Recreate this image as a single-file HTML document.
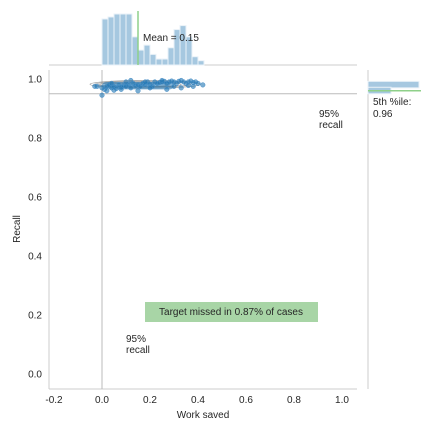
<!DOCTYPE html>
<html><head><meta charset="utf-8"><style>
body{margin:0;background:#fff;}
svg text{font-family:"Liberation Sans","DejaVu Sans",sans-serif;fill:#262626;}
</style></head><body>
<svg id="c" width="432" height="432" xmlns="http://www.w3.org/2000/svg"></svg>
<script>
const xTicks=[-0.2,0.0,0.2,0.4,0.6,0.8,1.0];
const yTicks=[0.0,0.2,0.4,0.6,0.8,1.0];
const histBinStart=0.0, histBinWidth=0.025;
const histCounts=[139,145,154,154,154,85,45,60,32,18,18,52,107,119,85,25,13];
const meanWork=0.15;
const recallHistBins=[0.97,0.95];
const recallHistCounts=[51,23];
const recallBinHeight=0.022;
const pct5=0.96;
const ptsX=[-0.02,0.0,0.01,0.02,0.03,0.04,0.05,0.06,0.07,0.08,0.09,0.1,0.11,0.12,0.13,0.14,0.15,0.16,0.17,0.18,0.19,0.2,0.21,0.22,0.23,0.24,0.25,0.26,0.27,0.28,0.29,0.3,0.31,0.32,0.33,0.34,0.35,0.36,0.37,0.38,0.39,0.4,0.42,-0.03,0.0,0.02,0.05,0.08,0.12,0.18,0.25,0.3,0.36,0.1,0.2,0.27,0.33,0.38,0.04,0.15];
const ptsY=[0.975,0.97,0.965,0.975,0.98,0.97,0.975,0.968,0.98,0.972,0.978,0.975,0.98,0.97,0.985,0.977,0.98,0.975,0.985,0.98,0.99,0.982,0.975,0.99,0.985,0.988,0.99,0.992,0.985,0.99,0.993,0.99,0.985,0.992,0.995,0.99,0.985,0.99,0.993,0.988,0.99,0.985,0.98,0.975,0.945,0.96,0.962,0.965,0.995,0.99,0.995,0.975,0.978,0.99,0.97,0.965,0.97,0.975,0.985,0.96];
const NS="http://www.w3.org/2000/svg";
const svg=document.getElementById('c');
const X=v=>102+240*v, Y=v=>374-295*v;
function el(t,a,p){const e=document.createElementNS(NS,t);for(const k in a)e.setAttribute(k,a[k]);(p||svg).appendChild(e);return e;}
function tx(x,y,s,anchor,name,size){const t=el('text',{x:x,y:y,'font-size':size||10,'text-anchor':anchor||'start'});t.textContent=s;

return t;}
let s=el('line',{x1:49,y1:70,x2:49,y2:389,stroke:'#ccc'});


s=el('line',{x1:49,y1:389,x2:357,y2:389,stroke:'#ccc'});


s=el('line',{x1:49,y1:65,x2:357,y2:65,stroke:'#ccc'});


s=el('line',{x1:368,y1:70,x2:368,y2:389,stroke:'#ccc'});


xTicks.forEach(v=>{tx(X(v),403,v.toFixed(1),'middle','x-tick-label');});
yTicks.forEach(v=>{tx(42,Y(v)+3.5,v.toFixed(1),'end','y-tick-label');});
tx(203,418,'Work saved','middle','x-axis-title');
let yt=tx(0,0,'Recall','middle','y-axis-title');yt.setAttribute('transform','translate(20,229) rotate(-90)');
const maxC=154;
histCounts.forEach((c,i)=>{const x0=X(histBinStart+i*histBinWidth);const h=c/maxC*51;
const r=el('rect',{x:x0,y:65-h,width:240*histBinWidth,height:h,fill:'#a6c8e0',stroke:'#eaf2f8','stroke-width':1});

});
s=el('line',{x1:X(meanWork),y1:11,x2:X(meanWork),y2:65,stroke:'#8fd08a','stroke-width':1.5});


tx(143,41,'Mean = '+meanWork.toFixed(2),'start','mean-label');
recallHistBins.forEach((b,i)=>{const w=recallHistCounts[i];
const r=el('rect',{x:368,y:Y(b+recallBinHeight),width:w,height:295*recallBinHeight,fill:'#a6c8e0',stroke:'#eaf2f8'});

});
s=el('line',{x1:368,y1:Y(pct5),x2:421,y2:Y(pct5),stroke:'#8fd08a','stroke-width':1.5});


tx(373,105,'5th %ile:','start','percentile-label');
tx(373,117,pct5.toFixed(2),'start','percentile-value');
s=el('line',{x1:49,y1:Y(0.95),x2:357,y2:Y(0.95),stroke:'#bbb'});


s=el('line',{x1:X(0),y1:70,x2:X(0),y2:389,stroke:'#bbb'});


[[0.18,0.982,0.23,0.013],[0.17,0.982,0.2,0.01],[0.16,0.981,0.17,0.008],[0.15,0.98,0.13,0.006]].forEach(c=>{
const e=el('ellipse',{cx:X(c[0]),cy:Y(c[1]),rx:240*c[2],ry:295*c[3],fill:'none',stroke:'#888','stroke-width':0.8,opacity:0.8});

});
let band=el('rect',{x:X(0),y:Y(0.99),width:240*0.3,height:295*0.025,fill:'#1f77b4',opacity:0.55,rx:4});


ptsX.forEach((v,i)=>{const p=el('circle',{cx:X(v),cy:Y(ptsY[i]),r:2.3,fill:'#1f77b4','fill-opacity':0.6,stroke:'#4a90c8','stroke-width':0.5});

});
tx(319,117,'95%','start','recall-annotation');
tx(319,128,'recall','start','recall-annotation');
tx(126,342,'95%','start','recall-annotation-2');
tx(126,353,'recall','start','recall-annotation-2');
let b=el('rect',{x:145,y:302,width:173,height:20,fill:'#a8d5a6'});


tx(231,315,'Target missed in 0.87% of cases','middle','target-missed-label');
</script>
</body></html>
